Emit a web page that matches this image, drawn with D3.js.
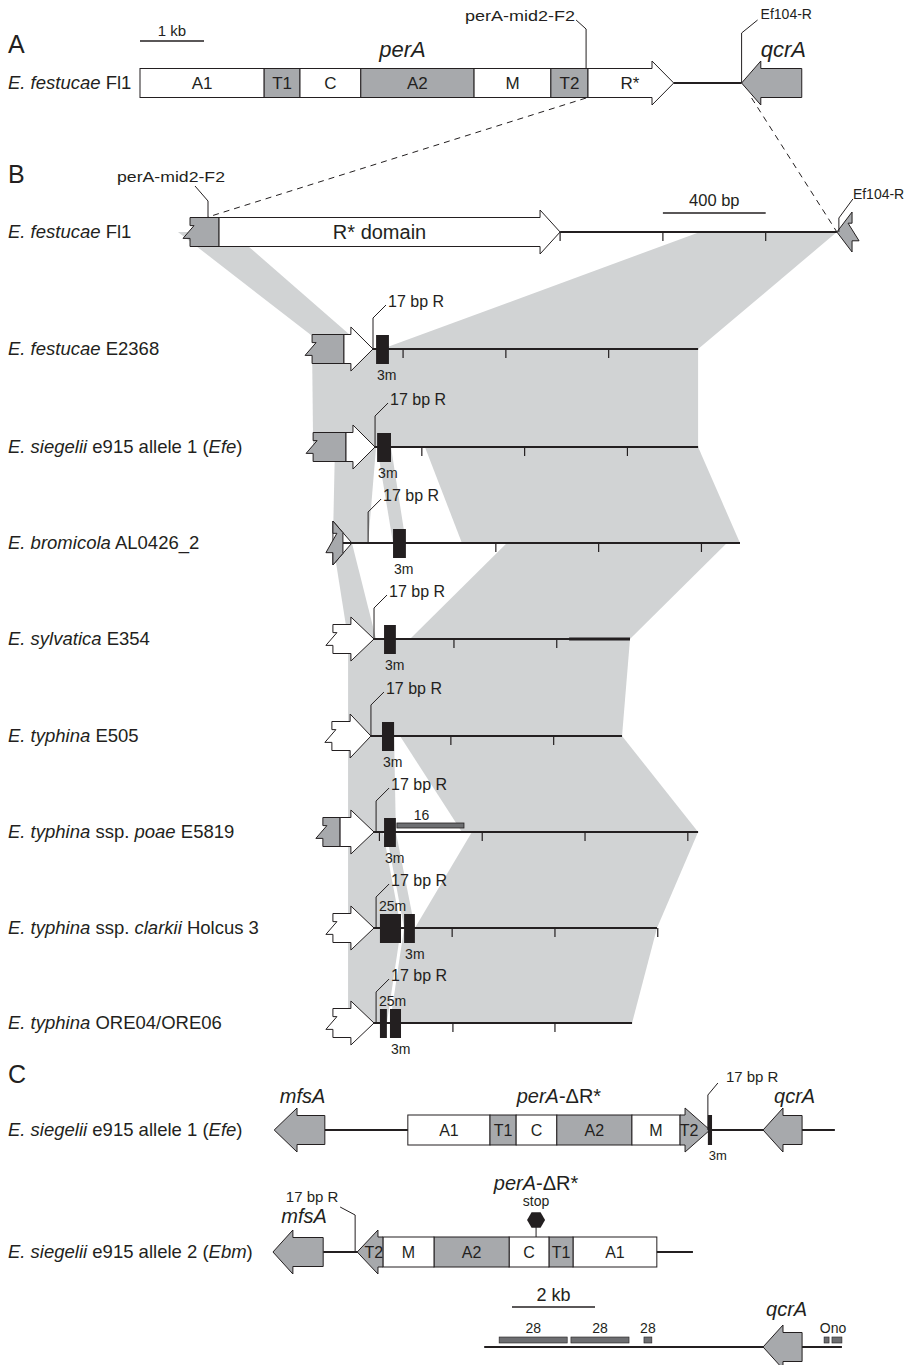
<!DOCTYPE html>
<html>
<head>
<meta charset="utf-8">
<script src="https://cdn.jsdelivr.net/npm/d3@7"></script>
<style>
  body { margin: 0; background: #fff; }
  svg text { font-family: "Liberation Sans", Arial, sans-serif; fill: #231f20; }
</style>
</head>
<body>
<svg id="fig" width="910" height="1365"></svg>
<script>
// ---------- data (bp for A and B, kb for C) ----------
// panel A: perA of E. festucae Fl1
const domainNamesA = ["A1", "T1", "C", "A2", "M", "T2", "R*"]
const domainEdgesA = [0, 1940, 2500, 3450, 5220, 6420, 7000, 8000]
const perATipA = 8340
const qcrA_A = [9400, 9700, 10340]          // tip, head base, end
const primerF2A = 6970, primerEf104A = 9400
const grayDomains = ["T1", "A2", "T2"]

// panel B: strains
const strainsB = [
  [["E. festucae", 1], [" Fl1", 0]],
  [["E. festucae", 1], [" E2368", 0]],
  [["E. siegelii", 1], [" e915 allele 1 (", 0], ["Efe", 1], [")", 0]],
  [["E. bromicola", 1], [" AL0426_2", 0]],
  [["E. sylvatica", 1], [" E354", 0]],
  [["E. typhina", 1], [" E505", 0]],
  [["E. typhina", 1], [" ssp. ", 0], ["poae", 1], [" E5819", 0]],
  [["E. typhina", 1], [" ssp. ", 0], ["clarkii", 1], [" Holcus 3", 0]],
  [["E. typhina", 1], [" ORE04/ORE06", 0]]
]
const grayBoxB = [[-712, -599], [-237, -113], [-233, -105], null, null, null, [-195, -128], null, null]
const arrowB = [[-599, 650, 728], [-113, -86, 0], [-105, -78, 8], [-156, -156, -82], [-156, -86, 4],
                [-160, -89, -8], [-128, -86, 4], [-156, -86, 4], [-156, -86, 4]]   // body start, head base, tip
const headGrayToB = [null, null, null, -117, null, null, null, null, null]
const lineB = [[728, 1805], [0, 1265], [8, 1265], [-117, 1428], [4, 1000], [-8, 969], [4, 1265], [4, 1105], [4, 1008]]
const ticksB = [[728, 1128, 1528], [117, 517, 917], [190, 590, 990], [478, 878, 1278], [315, 715],
                [303, 703], [25, 425, 825, 1225], [308, 708, 1108], [311, 708]]
const thickB = [null, null, null, null, [763, 1000], null, null, null, null]
const repeat17B = [null, 0, 8, -19, 4, -8, 12, 12, 12]
const motifsB = [
  [],
  [[12, 62, "3m"]],
  [[16, 70, "3m"]],
  [[78, 128, "3m"]],
  [[43, 89, "3m"]],
  [[35, 82, "3m"]],
  [[43, 89, "3m"]],
  [[27, 109, "25m"], [121, 163, "3m"]],
  [[27, 54, "25m"], [66, 109, "3m"]]
]
const bar16B = [93, 354]
const primerF2B = -642, ef104B = [1805, 1864]
const scaleBarB = [1128, 1528]
// aligned regions: upper row, [upper from, to], [lower from, to]
const alignRow = [0, 0, 1, 2, 2, 2, 3, 3, 4, 5, 5, 6, 6, 6, 7, 7]
const alignTop = [[-759, -549], [1272, 1805], [-237, 1265], [-148, 12], [16, 70], [202, 1265], [-156, -82], [521, 1377],
                  [-97, 1000], [-97, 82], [105, 969], [-97, 39], [51, 89], [385, 1265], [-97, 109], [121, 1105]]
const alignBottom = [[-171, -27], [35, 1265], [-233, 1265], [-156, -19], [78, 128], [346, 1428], [-97, 12], [144, 1000],
                     [-97, 969], [-97, 89], [346, 1265], [-97, 109], [121, 163], [163, 1105], [-97, 54], [66, 1008]]

// panel C (kb)
const allelesC = [
  [["E. siegelii", 1], [" e915 allele 1 (", 0], ["Efe", 1], [")", 0]],
  [["E. siegelii", 1], [" e915 allele 2 (", 0], ["Ebm", 1], [")", 0]]
]
const domainsC = ["A1", "T1", "C", "A2", "M", "T2"]
const allele1Edges = [-2.51, -0.53, 0.10, 1.08, 2.89, 4.05, 4.17], allele1Tip = 4.77
const allele2Edges = [3.49, 1.47, 0.89, -0.07, -1.88, -3.11, -3.23], allele2Tip = -3.73
const mfsAC = [[-5.73, -5.18, -4.51], [-5.76, -5.28, -4.55]]
const qcrAC = [[6.05, 6.53, 6.99], null, [6.05, 6.53, 6.99]]
const lineC = [[-4.51, 7.78], [-4.55, 4.36], [-0.67, 7.95]]
const repeat17C = [4.72, -3.78]
const motif3mC = [4.72, 4.82]
const stopC = 0.58
const repeats28C = [[-0.31, 1.33], [1.42, 2.82], [3.18, 3.37]]
const onoC = [[7.52, 7.64], [7.71, 7.95]]

// ---------- setup ----------
const ink = "#231f20", gray = "#a7a9ac", shade = "#d1d3d4", darkGray = "#6d6e71"
const svg = d3.select("#fig")
svg.append("rect").attr("width", 910).attr("height", 1365).attr("fill", "#fff")

const xA = d3.scaleLinear().domain([0, 1000]).range([140, 204])
const xB = d3.scaleLinear().domain([0, 400]).range([373, 475.8])
const xC = d3.scaleLinear().domain([0, 2]).range([512, 595])

const yA = 83
const yB = [232, 349, 447, 543, 639, 736, 832, 928, 1023]
const yC = [1130, 1252, 1347]
const bodyH = 29, headH = 44
const labelSize = 18.5

function txt(x, y, parts, size, anchor) {
  const t = svg.append("text").attr("x", x).attr("y", y).attr("font-size", size)
    .attr("text-anchor", anchor || "start")
  parts.forEach(p => t.append("tspan").text(p[0]).attr("font-style", p[1] ? "italic" : "normal"))
  return t
}
function poly(pts, fill, sw) {
  return svg.append("polygon").attr("points", pts.map(p => p.join(",")).join(" "))
    .attr("fill", fill).attr("stroke", ink).attr("stroke-width", sw == null ? 1 : sw)
}
function hline(x1, x2, y, w) {
  svg.append("line").attr("x1", x1).attr("x2", x2).attr("y1", y).attr("y2", y)
    .attr("stroke", ink).attr("stroke-width", w || 2)
}
function path(d, w, dash) {
  const p = svg.append("path").attr("d", d).attr("fill", "none").attr("stroke", ink).attr("stroke-width", w || 1)
  if (dash) p.attr("stroke-dasharray", dash)
  return p
}
// broken edge, top to bottom; out = -1 sticks left, +1 sticks right
function jagEdge(x, top, h, out) {
  return [[x, top], [x, top + 0.28 * h], [x - 4 * out, top + 0.28 * h], [x + 7 * out, top + 0.72 * h], [x, top + 0.72 * h], [x, top + h]]
}
function rightArrow(x0, xb, xt, y, bh, hh, jag) {
  const pts = [[x0, y - bh / 2], [xb, y - bh / 2], [xb, y - hh / 2], [xt, y], [xb, y + hh / 2], [xb, y + bh / 2], [x0, y + bh / 2]]
  if (jag) pts.push(...jagEdge(x0, y - bh / 2, bh, -1).reverse().slice(1, -1))
  return pts
}
function leftArrow(xt, xb, x1, y, bh, hh) {
  return [[xt, y], [xb, y - hh / 2], [xb, y - bh / 2], [x1, y - bh / 2], [x1, y + bh / 2], [xb, y + bh / 2], [xb, y + hh / 2]]
}
function jagBox(x0, x1, y, h) {
  return [[x0, y - h / 2], [x1, y - h / 2], [x1, y + h / 2], [x0, y + h / 2], ...jagEdge(x0, y - h / 2, h, -1).reverse().slice(1, -1)]
}
function leader(x, y, up, text, size) {
  path(`M${x},${y} V${y - up} L${x + 13},${y - up - 13}`)
  txt(x + 15, y - up - 11, [[text, 0]], size)
}

// ---------- panel A ----------
txt(8, 53, [["A", 0]], 25)
hline(xA(0), xA(1000), 41, 1.5)
txt((xA(0) + xA(1000)) / 2, 36, [["1 kb", 0]], 15, "middle")
txt(8, yA + 6, strainsB[0], labelSize)
hline(xA(perATipA), xA(qcrA_A[0]), yA)
domainNamesA.forEach((d, i) => {
  const x0 = xA(domainEdgesA[i]), x1 = xA(domainEdgesA[i + 1])
  const fill = grayDomains.includes(d) ? gray : "#fff"
  if (i === domainNamesA.length - 1) poly(rightArrow(x0, x1, xA(perATipA), yA, bodyH, headH), fill)
  else svg.append("rect").attr("x", x0).attr("y", yA - bodyH / 2).attr("width", x1 - x0).attr("height", bodyH)
    .attr("fill", fill).attr("stroke", ink).attr("stroke-width", 1)
  txt((x0 + x1) / 2 + (i === domainNamesA.length - 1 ? 10 : 0), yA + 6, [[d, 0]], 17, "middle")
})
poly(leftArrow(xA(qcrA_A[0]), xA(qcrA_A[1]), xA(qcrA_A[2]), yA, bodyH, headH), gray)
txt((xA(domainEdgesA[3]) + xA(domainEdgesA[4])) / 2 - 15, 57, [["perA", 1]], 22, "middle")
txt((xA(qcrA_A[1]) + xA(qcrA_A[2])) / 2 + 2, 57, [["qcrA", 1]], 22, "middle")
// primers
path(`M${xA(primerF2A) - 10},${20} L${xA(primerF2A)},${29} V${yA - bodyH / 2}`)
txt(xA(primerF2A) - 11, 21, [["perA-mid2-F2", 0]], 14, "end").attr("textLength", 110).attr("lengthAdjust", "spacingAndGlyphs")
path(`M${xA(primerEf104A) + 16},${20} L${xA(primerEf104A)},${33} V${yA}`)
txt(xA(primerEf104A) + 19, 19, [["Ef104-R", 0]], 14)

// ---------- panel B ----------
txt(8, 183, [["B", 0]], 25)
// aligned regions
alignRow.forEach((r, i) => {
  const t = alignTop[i], b = alignBottom[i]
  svg.append("polygon")
    .attr("points", [[xB(t[0]), yB[r]], [xB(t[1]), yB[r]], [xB(b[1]), yB[r + 1]], [xB(b[0]), yB[r + 1]]].map(p => p.join(",")).join(" "))
    .attr("fill", shade)
})
// dashed links from A to B
path(`M${xA(primerF2A)},${yA + 15} L${xB(primerF2B)},${yB[0] - 15}`, 1, "6,5")
path(`M${xA(primerEf104A) + 10},${yA + 15} L${xB(ef104B[0])},${yB[0]}`, 1, "6,5")

strainsB.forEach((s, i) => {
  const y = yB[i]
  txt(8, y + 6, s, labelSize)
  const a = arrowB[i]
  if (headGrayToB[i] != null) {
    // head only, partly grey
    const xb = xB(a[1]), xt = xB(a[2]), xg = xB(headGrayToB[i])
    poly([[xb, y - headH / 2], [xt, y], [xb, y + headH / 2]], "#fff")
    hline(xg, xB(lineB[i][1]), y)
    const hy = headH / 2 * (1 - (xg - xb) / (xt - xb))
    poly([[xb, y - headH / 2], [xg, y - hy], [xg, y + hy], [xb, y + headH / 2],
          ...jagEdge(xb, y - headH / 2, headH, -1).reverse().slice(1, -1)], gray)
  } else {
    hline(xB(lineB[i][0]), xB(lineB[i][1]), y)
    if (grayBoxB[i]) poly(jagBox(xB(grayBoxB[i][0]), xB(grayBoxB[i][1]), y, bodyH), gray)
    poly(rightArrow(xB(a[0]), xB(a[1]), xB(a[2]), y, bodyH, headH, !grayBoxB[i]), "#fff")
  }
  if (thickB[i]) hline(xB(thickB[i][0]), xB(thickB[i][1]), y, 3.2)
  ticksB[i].forEach(t => path(`M${xB(t)},${y} V${y + 9}`, 1.2))
  if (repeat17B[i] != null) leader(xB(repeat17B[i]), y, 31, "17 bp R", 16)
  motifsB[i].forEach(m => {
    const x0 = xB(m[0]), x1 = xB(m[1])
    svg.append("rect").attr("x", x0).attr("y", y - 14).attr("width", x1 - x0).attr("height", 29).attr("fill", ink)
    if (m[2] === "3m") txt(x0 + 1, y + 31, [[m[2], 0]], 14)
    else txt(x0 - 1, y - 17, [[m[2], 0]], 14)
  })
})
// Fl1 extras
txt((xB(arrowB[0][0]) + xB(arrowB[0][1])) / 2, yB[0] + 7, [["R* domain", 0]], 20, "middle")
poly([[xB(ef104B[0]), yB[0]], [xB(ef104B[1]), yB[0] - 20], ...jagEdge(xB(ef104B[1]), yB[0] - 20, 40, 1).slice(1)], gray)
path(`M${xB(ef104B[0]) + 16},${yB[0] - 33} L${xB(ef104B[0]) + 2},${yB[0] - 14} V${yB[0]}`)
txt(xB(ef104B[0]) + 16, yB[0] - 33, [["Ef104-R", 0]], 14)
path(`M${xB(primerF2B) - 13},${yB[0] - 46} L${xB(primerF2B)},${yB[0] - 31} V${yB[0] - bodyH / 2}`)
txt(xB(primerF2B) - 37, yB[0] - 50, [["perA-mid2-F2", 0]], 14, "middle").attr("textLength", 108).attr("lengthAdjust", "spacingAndGlyphs")
hline(xB(scaleBarB[0]), xB(scaleBarB[1]), 213, 1.5)
txt((xB(scaleBarB[0]) + xB(scaleBarB[1])) / 2, 206, [["400 bp", 0]], 16.5, "middle")
// poae 16 bar
svg.append("rect").attr("x", xB(bar16B[0])).attr("y", yB[6] - 9).attr("width", xB(bar16B[1]) - xB(bar16B[0]))
  .attr("height", 5).attr("fill", darkGray).attr("stroke", ink).attr("stroke-width", 0.8)
txt((xB(bar16B[0]) + xB(bar16B[1])) / 2 - 9, yB[6] - 12, [["16", 0]], 14, "middle")

// ---------- panel C ----------
txt(8, 1083, [["C", 0]], 25)
allelesC.forEach((s, i) => txt(8, yC[i] + 6, s, labelSize))
lineC.forEach((l, i) => hline(xC(l[0]), xC(l[1]), yC[i]))
mfsAC.forEach((m, i) => {
  poly(leftArrow(xC(m[0]), xC(m[1]), xC(m[2]), yC[i], bodyH, headH), gray)
})
qcrAC.forEach((q, i) => {
  if (q) poly(leftArrow(xC(q[0]), xC(q[1]), xC(q[2]), yC[i], bodyH, headH), gray)
})
// allele 1 (forward)
domainsC.forEach((d, i) => {
  const a = xC(allele1Edges[i]), b = xC(allele1Edges[i + 1])
  const fill = grayDomains.includes(d) ? gray : "#fff"
  if (d === "T2") poly(rightArrow(a, b, xC(allele1Tip), yC[0], 30, headH), fill)
  else svg.append("rect").attr("x", a).attr("y", yC[0] - 15).attr("width", b - a).attr("height", 30)
    .attr("fill", fill).attr("stroke", ink).attr("stroke-width", 1)
  txt(d === "T2" ? a + 9 : (a + b) / 2, yC[0] + 6, [[d, 0]], 16, "middle")
})
// allele 2 (reverse)
domainsC.forEach((d, i) => {
  const a = xC(allele2Edges[i + 1]), b = xC(allele2Edges[i])
  const fill = grayDomains.includes(d) ? gray : "#fff"
  if (d === "T2") poly(leftArrow(xC(allele2Tip), a, b, yC[1], 30, headH), fill)
  else svg.append("rect").attr("x", a).attr("y", yC[1] - 15).attr("width", b - a).attr("height", 30)
    .attr("fill", fill).attr("stroke", ink).attr("stroke-width", 1)
  txt(d === "T2" ? b - 9 : (a + b) / 2, yC[1] + 6, [[d, 0]], 16, "middle")
})
// 3m and 17 bp R, allele 1
svg.append("rect").attr("x", xC(motif3mC[0])).attr("y", yC[0] - 15).attr("width", xC(motif3mC[1]) - xC(motif3mC[0]))
  .attr("height", 30).attr("fill", ink)
txt(xC(motif3mC[0]) + 10, yC[0] + 30, [["3m", 0]], 13, "middle")
path(`M${xC(repeat17C[0])},${yC[0]} V${yC[0] - 35} L${xC(repeat17C[0]) + 10},${yC[0] - 47}`)
txt(xC(repeat17C[0]) + 18, yC[0] - 48, [["17 bp R", 0]], 15)
// 17 bp R, allele 2
path(`M${xC(repeat17C[1])},${yC[1]} V${yC[1] - 37} L${xC(repeat17C[1]) - 15},${yC[1] - 45}`)
txt(xC(repeat17C[1]) - 43, yC[1] - 50, [["17 bp R", 0]], 15, "middle")
// stop
const sx = xC(stopC), sy = yC[1] - 32
path(`M${sx},${yC[1] - 15} V${sy}`)
svg.append("polygon").attr("fill", ink)
  .attr("points", d3.range(6).map(k => [sx + 9 * Math.cos(k * Math.PI / 3), sy + 9 * Math.sin(k * Math.PI / 3)].join(",")).join(" "))
txt(sx, sy - 14, [["stop", 0]], 14, "middle")
// gene labels
txt((xC(mfsAC[0][0]) + xC(mfsAC[0][2])) / 2 + 3, 1103, [["mfsA", 1]], 20, "middle")
txt((xC(allele1Edges[0]) + xC(allele1Tip)) / 2, 1103, [["perA", 1], ["-ΔR*", 0]], 20, "middle")
txt((xC(qcrAC[0][0]) + xC(qcrAC[0][2])) / 2 + 12, 1103, [["qcrA", 1]], 20, "middle")
txt((xC(mfsAC[1][0]) + xC(mfsAC[1][2])) / 2 + 6, 1223, [["mfsA", 1]], 20, "middle")
txt(sx, 1190, [["perA", 1], ["-ΔR*", 0]], 20, "middle")
txt((xC(qcrAC[2][0]) + xC(qcrAC[2][2])) / 2 + 4, 1316, [["qcrA", 1]], 20, "middle")
// scale bar
hline(xC(0), xC(2), 1307, 1.5)
txt((xC(0) + xC(2)) / 2, 1301, [["2 kb", 0]], 18, "middle")
// repeat blocks
repeats28C.forEach(r => {
  svg.append("rect").attr("x", xC(r[0])).attr("y", yC[2] - 10).attr("width", xC(r[1]) - xC(r[0])).attr("height", 6)
    .attr("fill", darkGray).attr("stroke", ink).attr("stroke-width", 0.6)
  txt((xC(r[0]) + xC(r[1])) / 2, yC[2] - 14, [["28", 0]], 14, "middle")
})
onoC.forEach(r => {
  svg.append("rect").attr("x", xC(r[0])).attr("y", yC[2] - 10).attr("width", xC(r[1]) - xC(r[0])).attr("height", 6)
    .attr("fill", darkGray).attr("stroke", ink).attr("stroke-width", 0.6)
})
txt((xC(onoC[0][0]) + xC(onoC[1][1])) / 2, yC[2] - 14, [["Ono", 0]], 14, "middle")
</script>
</body>
</html>
